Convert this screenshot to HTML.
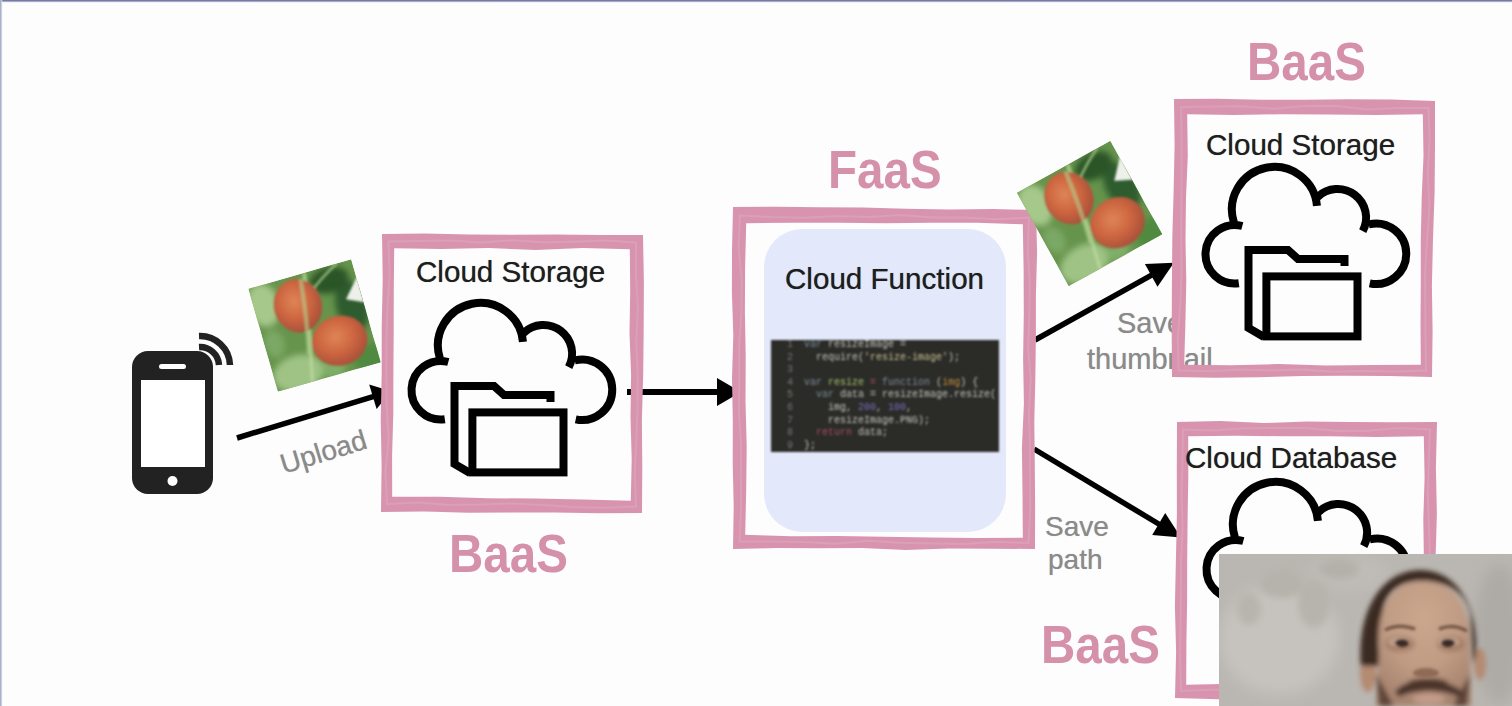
<!DOCTYPE html>
<html><head><meta charset="utf-8">
<style>
html,body{margin:0;padding:0;}
body{width:1512px;height:706px;overflow:hidden;position:relative;background:#fdfdfe;font-family:"Liberation Sans",sans-serif;}
.abs{position:absolute;}
.topline{position:absolute;left:0;top:0;width:1512px;height:3px;background:linear-gradient(#656a97 0,#8a8eb4 40%,rgba(220,224,240,0.5) 75%,rgba(253,253,254,0) 100%);}
.leftline{position:absolute;left:0;top:0;width:3px;height:706px;background:linear-gradient(90deg,#9aa3bb 0,#c0c7d8 45%,rgba(235,238,248,0.4) 75%,rgba(253,253,254,0) 100%);}
svg{position:absolute;left:0;top:0;}
.t{position:absolute;white-space:nowrap;color:#1e1e1e;font-size:29.6px;line-height:1;text-shadow:0 0 0.7px rgba(30,30,30,0.7);}
.lbl{position:absolute;white-space:nowrap;color:#8a8a8a;font-size:28px;line-height:1;text-shadow:0 0 0.7px rgba(138,138,138,0.7);}
.big{position:absolute;white-space:nowrap;color:#d590aa;font-size:54px;font-weight:bold;line-height:1;transform-origin:0 0;transform:scaleX(0.88);}
.fn{position:absolute;left:764px;top:229px;width:242px;height:303px;background:#e3e9fb;border-radius:38px;}
.code{position:absolute;left:771px;top:340px;width:228px;height:112px;background:#2b2b28;overflow:hidden;font-family:"Liberation Mono",monospace;font-size:10px;color:#c4c4bc;filter:blur(1px);}
.cl{height:12.6px;line-height:12.6px;white-space:pre;position:relative;left:33px;top:-1px;}
.ln{position:absolute;left:-17px;color:#777;}
.k{color:#7d8f9a} .s{color:#c8c090} .g{color:#a8c070} .r{color:#a85068} .o{color:#c09040} .n{color:#7a72c0}
.photo{position:absolute;width:107px;height:107px;overflow:hidden;}
.berry{position:absolute;border-radius:50%;}
.b1{left:21px;top:4px;width:42px;height:50px;background:radial-gradient(ellipse at 40% 40%,#e07050,#c4503a 60%,#a04030);}
.b2{left:46px;top:52px;width:52px;height:46px;background:radial-gradient(ellipse at 45% 40%,#e07850,#c85a3a 60%,#a84a30);}
.stem{position:absolute;left:55px;top:0;width:7px;height:107px;background:rgba(170,210,130,0.8);transform:rotate(-8deg);}
.cam{position:absolute;left:1219px;top:554px;width:293px;height:152px;overflow:hidden;
 background:radial-gradient(ellipse 90px 60px at 60px 40px,#c8c5c0,rgba(200,197,192,0)),linear-gradient(90deg,#b8b4ae,#aaa6a0 60%,#b0aca6);}
</style></head><body>
<div class="topline"></div><div class="leftline"></div>
<div class="fn"></div>
<div class="code"><div class="cl"><span class="ln">1</span><span class="k">var</span> resizeImage =</div><div class="cl"><span class="ln">2</span>  require(<span class="s">'resize-image'</span>);</div><div class="cl"><span class="ln">3</span></div><div class="cl"><span class="ln">4</span><span class="k">var</span> <span class="g">resize</span> <span class="r">=</span> <span class="k">function</span> (<span class="o">img</span>) {</div><div class="cl"><span class="ln">5</span>  <span class="k">var</span> data = resizeImage.resize(</div><div class="cl"><span class="ln">6</span>    img, <span class="n">200</span>, <span class="n">100</span>,</div><div class="cl"><span class="ln">7</span>    resizeImage.PNG);</div><div class="cl"><span class="ln">8</span>  <span class="r">return</span> data;</div><div class="cl"><span class="ln">9</span>};</div></div>
<svg width="1512" height="706" viewBox="0 0 1512 706">

<rect x="132" y="351" width="81" height="143" rx="16" fill="#222"/>
<rect x="141" y="380" width="64" height="87" fill="#fff"/>
<rect x="159" y="364" width="27" height="5" rx="2.5" fill="#fff"/>
<circle cx="172.5" cy="481" r="5" fill="#fff"/>
<path d="M199,336 A30,30 0 0 1 230,365" fill="none" stroke="#222" stroke-width="6.5"/>
<path d="M199,347 A19,19 0 0 1 219,365" fill="none" stroke="#222" stroke-width="6.5"/>

<line x1="237" y1="438" x2="374.8" y2="396.2" stroke="#000" stroke-width="5.5"/><path d="M391.1,391.3 L376.6,409.0 L369.2,384.6 Z" fill="#000"/>
<line x1="627" y1="392" x2="719.0" y2="392.0" stroke="#000" stroke-width="6"/><path d="M741.0,392.0 L717.0,406.0 L717.0,378.0 Z" fill="#000"/>
<line x1="1035" y1="340" x2="1152.9" y2="274.3" stroke="#000" stroke-width="5.5"/><path d="M1173.9,262.7 L1157.5,286.7 L1144.9,263.9 Z" fill="#000"/>
<line x1="1034" y1="449" x2="1160.4" y2="525.0" stroke="#000" stroke-width="5.5"/><path d="M1181.0,537.4 L1152.2,534.9 L1165.2,513.1 Z" fill="#000"/>
<path d="M448.32,362.00 A29.25,29.25 0 1 0 444.82,419.22" fill="none" stroke="#000" stroke-width="8"/>
<path d="M439.98,358.66 A42.6,42.6 0 1 1 522.94,341.79" fill="none" stroke="#000" stroke-width="8"/>
<path d="M523.46,333.05 A28.7,28.7 0 0 1 568.74,367.17" fill="none" stroke="#000" stroke-width="8"/>
<path d="M574.68,360.40 A30.25,30.25 0 1 1 575.71,419.34" fill="none" stroke="#000" stroke-width="8"/>
<path d="M550.5,402.0 L550.5,395.0 L504.0,395.0 L494.0,386.0 L454.5,386.0 L454.5,464.0 L470.0,473.0" fill="none" stroke="#000" stroke-width="8" stroke-linejoin="miter"/>
<rect x="472.4000000000001" y="412.4" width="91.1" height="60" fill="none" stroke="#000" stroke-width="8"/>
<path d="M1242.32,226.00 A29.25,29.25 0 1 0 1238.82,283.22" fill="none" stroke="#000" stroke-width="8"/>
<path d="M1233.98,222.66 A42.6,42.6 0 1 1 1316.94,205.79" fill="none" stroke="#000" stroke-width="8"/>
<path d="M1317.46,197.05 A28.7,28.7 0 0 1 1362.74,231.17" fill="none" stroke="#000" stroke-width="8"/>
<path d="M1368.68,224.40 A30.25,30.25 0 1 1 1369.71,283.34" fill="none" stroke="#000" stroke-width="8"/>
<path d="M1344.5,266.0 L1344.5,259.0 L1298.0,259.0 L1288.0,250.0 L1248.5,250.0 L1248.5,328.0 L1264.0,337.0" fill="none" stroke="#000" stroke-width="8" stroke-linejoin="miter"/>
<rect x="1266.4" y="276.4" width="91.1" height="60" fill="none" stroke="#000" stroke-width="8"/>
<path d="M1243.32,541.00 A29.25,29.25 0 1 0 1239.82,598.22" fill="none" stroke="#000" stroke-width="8"/>
<path d="M1234.98,537.66 A42.6,42.6 0 1 1 1317.94,520.79" fill="none" stroke="#000" stroke-width="8"/>
<path d="M1318.46,512.05 A28.7,28.7 0 0 1 1363.74,546.17" fill="none" stroke="#000" stroke-width="8"/>
<path d="M1369.68,539.40 A30.25,30.25 0 1 1 1370.71,598.34" fill="none" stroke="#000" stroke-width="8"/>
<path d="M1345.5,581.0 L1345.5,574.0 L1299.0,574.0 L1289.0,565.0 L1249.5,565.0 L1249.5,643.0 L1265.0,652.0" fill="none" stroke="#000" stroke-width="8" stroke-linejoin="miter"/>
<rect x="1267.4" y="591.4" width="91.1" height="60" fill="none" stroke="#000" stroke-width="8"/>
</svg>
<div class="lbl" style="left:0;top:0;transform:translate(277px,452px) rotate(-17deg);transform-origin:0 0;">Upload</div>
<div class="lbl" style="left:1117px;top:309px;font-size:29px">Save</div>
<div class="lbl" style="left:1087px;top:345px;font-size:29px">thumbnail</div>
<div class="lbl" style="left:1045px;top:513px;">Save</div>
<div class="lbl" style="left:1048px;top:546px;">path</div>
<svg width="1512" height="706" viewBox="0 0 1512 706" style="filter:blur(0.7px)">
<path d="M382.0,234.0 L425.5,233.4 L469.0,234.5 L512.5,234.8 L556.0,234.4 L599.5,234.9 L643.0,235.0 L643.9,281.3 L643.7,327.7 L643.2,374.0 L641.9,420.3 L642.3,466.7 L642.0,513.0 L598.5,513.3 L555.0,512.5 L511.5,512.6 L468.0,512.8 L424.5,511.5 L381.0,512.0 L381.6,465.7 L380.7,419.3 L381.7,373.0 L381.7,326.7 L382.7,280.3 Z M394.2,248.2 L441.3,249.0 L488.4,248.1 L535.6,250.0 L582.7,248.1 L629.8,249.2 L630.2,291.1 L629.5,333.1 L631.1,375.0 L630.5,416.9 L631.7,458.9 L630.8,500.8 L583.1,499.6 L535.4,498.6 L487.6,498.2 L439.9,496.7 L392.2,496.8 L392.1,455.4 L393.3,413.9 L393.4,372.5 L393.7,331.1 L393.8,289.6 Z" fill="#d894ae" fill-rule="evenodd"/><path d="M388.5,241.5 L419.4,240.9 L450.4,240.4 L481.3,242.5 L512.3,240.3 L543.2,242.3 L574.1,241.7 L605.1,240.6 L636.0,242.5 L636.0,275.5 L637.9,308.5 L636.3,341.5 L637.7,374.5 L637.6,407.5 L636.3,440.5 L634.7,473.5 L636.0,506.5 L604.9,507.7 L573.7,507.0 L542.6,505.1 L511.5,503.5 L480.4,504.6 L449.2,505.0 L418.1,502.4 L387.0,504.0 L385.4,471.2 L388.8,438.4 L386.7,405.6 L386.3,372.7 L386.4,339.9 L387.4,307.1 L389.6,274.3 Z" fill="none" stroke="#e2aec2" stroke-width="2" opacity="0.4"/>
<path d="M733.0,207.0 L776.3,206.7 L819.6,207.2 L862.9,207.6 L906.1,208.7 L949.4,209.4 L992.7,209.0 L1036.0,210.0 L1037.1,252.4 L1035.9,294.8 L1035.9,337.1 L1035.3,379.5 L1034.3,421.9 L1034.8,464.2 L1035.1,506.6 L1035.0,549.0 L991.9,548.7 L948.7,548.6 L905.6,550.1 L862.4,548.0 L819.3,548.3 L776.1,548.1 L733.0,549.0 L733.7,506.2 L732.7,463.5 L732.8,420.8 L732.0,378.0 L733.3,335.2 L731.9,292.5 L732.0,249.8 Z M746.2,223.2 L792.3,222.7 L838.4,222.7 L884.5,223.3 L930.6,222.8 L976.7,222.8 L1022.8,224.2 L1023.6,269.0 L1023.8,313.8 L1023.1,358.6 L1023.9,403.4 L1021.9,448.2 L1022.5,493.0 L1022.8,537.8 L976.5,538.1 L930.3,537.4 L884.0,536.7 L837.7,536.1 L791.5,536.2 L745.2,534.8 L746.2,490.3 L746.7,445.8 L745.5,401.3 L745.7,356.7 L744.9,312.2 L745.1,267.7 Z" fill="#d894ae" fill-rule="evenodd"/><path d="M740.0,215.5 L772.1,217.1 L804.2,217.7 L836.3,216.1 L868.4,217.0 L900.6,214.9 L932.7,217.6 L964.8,217.6 L996.9,219.3 L1029.0,217.5 L1027.7,250.0 L1029.8,282.6 L1029.3,315.2 L1028.1,347.7 L1030.7,380.3 L1028.9,412.8 L1030.0,445.4 L1030.1,477.9 L1030.3,510.5 L1028.5,543.0 L996.4,541.8 L964.3,544.1 L932.2,543.5 L900.1,542.8 L868.0,540.7 L835.8,543.7 L803.7,542.0 L771.6,541.5 L739.5,541.5 L741.1,508.9 L740.9,476.3 L741.1,443.7 L738.8,411.1 L739.4,378.5 L739.2,345.9 L741.4,313.3 L741.7,280.7 L738.6,248.1 Z" fill="none" stroke="#e2aec2" stroke-width="2" opacity="0.4"/>
<path d="M1174.0,99.0 L1217.5,98.7 L1261.0,99.7 L1304.5,99.7 L1348.0,99.2 L1391.5,99.5 L1435.0,101.0 L1435.0,147.0 L1434.6,193.0 L1433.0,239.0 L1431.9,285.0 L1432.6,331.0 L1432.0,377.0 L1388.7,376.0 L1345.3,375.8 L1302.0,375.9 L1258.7,377.3 L1215.3,377.7 L1172.0,377.0 L1171.7,330.7 L1171.9,284.3 L1172.3,238.0 L1173.6,191.7 L1174.6,145.3 Z M1187.2,114.2 L1234.3,115.0 L1281.4,114.2 L1328.6,114.6 L1375.7,114.9 L1422.8,114.2 L1423.5,156.0 L1421.7,197.7 L1420.8,239.5 L1420.8,281.3 L1420.5,323.0 L1420.8,364.8 L1373.5,364.9 L1326.2,365.6 L1278.8,364.1 L1231.5,365.2 L1184.2,364.8 L1185.4,323.0 L1186.3,281.3 L1185.5,239.5 L1186.0,197.7 L1187.8,156.0 Z" fill="#d894ae" fill-rule="evenodd"/><path d="M1181.0,107.0 L1211.9,106.5 L1242.9,106.3 L1273.8,108.7 L1304.8,106.1 L1335.7,105.7 L1366.6,109.6 L1397.6,108.0 L1428.5,108.0 L1429.6,140.8 L1427.7,173.6 L1429.5,206.5 L1427.1,239.2 L1425.0,272.0 L1425.2,304.9 L1425.5,337.7 L1426.0,370.5 L1395.1,371.5 L1364.1,371.0 L1333.2,371.8 L1302.2,369.4 L1271.3,370.4 L1240.4,369.4 L1209.4,371.2 L1178.5,370.5 L1177.7,337.6 L1180.4,304.6 L1181.4,271.7 L1181.2,238.8 L1181.3,205.8 L1181.6,172.9 L1181.6,139.9 Z" fill="none" stroke="#e2aec2" stroke-width="2" opacity="0.4"/>
<path d="M1177.0,422.0 L1220.3,421.1 L1263.7,423.0 L1307.0,421.6 L1350.3,421.9 L1393.7,422.2 L1437.0,422.0 L1435.9,468.0 L1436.9,514.0 L1435.5,560.0 L1436.3,606.0 L1436.1,652.0 L1436.0,698.0 L1392.5,697.9 L1349.0,699.2 L1305.5,698.1 L1262.0,698.8 L1218.5,699.2 L1175.0,698.0 L1176.1,652.0 L1174.9,606.0 L1175.9,560.0 L1176.9,514.0 L1176.8,468.0 Z M1188.2,436.2 L1235.3,435.8 L1282.4,436.2 L1329.6,436.3 L1376.7,436.9 L1423.8,436.2 L1424.6,477.6 L1423.3,519.1 L1423.9,560.5 L1423.7,601.9 L1422.3,643.4 L1422.8,684.8 L1375.5,684.8 L1328.2,684.7 L1280.8,684.2 L1233.5,683.8 L1186.2,684.8 L1186.4,643.4 L1187.1,601.9 L1187.2,560.5 L1187.6,519.1 L1188.3,477.6 Z" fill="#d894ae" fill-rule="evenodd"/><path d="M1183.0,429.5 L1213.9,430.4 L1244.8,428.2 L1275.6,428.0 L1306.5,428.1 L1337.4,431.1 L1368.2,430.7 L1399.1,428.1 L1430.0,429.5 L1428.6,462.2 L1427.8,494.9 L1429.0,527.6 L1430.1,560.3 L1429.2,592.9 L1430.7,625.6 L1431.1,658.3 L1429.0,691.0 L1398.0,689.1 L1367.0,690.4 L1336.0,690.9 L1305.0,689.3 L1274.0,691.3 L1243.0,689.5 L1212.0,689.7 L1181.0,691.0 L1180.1,658.3 L1180.5,625.6 L1180.9,592.9 L1181.0,560.2 L1182.6,527.6 L1181.5,494.9 L1182.4,462.2 Z" fill="none" stroke="#e2aec2" stroke-width="2" opacity="0.4"/>
</svg>
<div class="t" style="left:416px;top:257px">Cloud Storage</div>
<div class="t" style="left:1206px;top:130px">Cloud Storage</div>
<div class="t" style="left:1185px;top:443px">Cloud Database</div>
<div class="t" style="left:785px;top:264px">Cloud Function</div>
<div class="big" style="left:449px;top:526px">BaaS</div>
<div class="big" style="left:828px;top:142px">FaaS</div>
<div class="big" style="left:1247px;top:34px">BaaS</div>
<div class="big" style="left:1041px;top:617px">BaaS</div>
<div class="photo" style="left:261.1px;top:271.9px;transform:rotate(-16deg)">
<svg width="107" height="107" viewBox="0 0 107 107" style="position:absolute;left:0;top:0">
<defs>
<filter id="pb314" x="-30%" y="-30%" width="160%" height="160%"><feGaussianBlur stdDeviation="3"/></filter>
<filter id="pc314" x="-30%" y="-30%" width="160%" height="160%"><feGaussianBlur stdDeviation="1"/></filter>
<radialGradient id="rb314" cx="45%" cy="40%" r="60%"><stop offset="0" stop-color="#df8457"/><stop offset="0.55" stop-color="#cd6640"/><stop offset="1" stop-color="#a9503a"/></radialGradient>
</defs>
<rect width="107" height="107" fill="#66944c"/>
<g filter="url(#pb314)">
<ellipse cx="10" cy="20" rx="16" ry="22" fill="#a6c88a"/>
<ellipse cx="25" cy="95" rx="26" ry="18" fill="#9fc385"/>
<ellipse cx="95" cy="45" rx="16" ry="26" fill="#2f5c2d"/>
<ellipse cx="80" cy="14" rx="20" ry="13" fill="#2c5428"/>
<ellipse cx="100" cy="100" rx="18" ry="14" fill="#4f8a40"/>
<ellipse cx="60" cy="100" rx="12" ry="10" fill="#7eae68"/>
<ellipse cx="10" cy="60" rx="10" ry="14" fill="#7ca865"/>
</g>
<g filter="url(#pc314)">
<path d="M58,0 C54,30 44,70 36,107" stroke="#b9d89a" stroke-width="4" fill="none" opacity="0.7"/>
<path d="M60,20 C70,12 80,6 92,0" stroke="#a9cc8c" stroke-width="3" fill="none" opacity="0.7"/>
<ellipse cx="43" cy="30" rx="24" ry="27" fill="url(#rb314)"/>
<ellipse cx="73.5" cy="75" rx="28" ry="25" fill="url(#rb314)"/>
<path d="M53,5 C50,30 46,55 40,80" stroke="#b0d28e" stroke-width="4" fill="none" opacity="0.6"/>
<path d="M108,18 L91,37 L108,45 Z" fill="#eef1ea"/>
</g>
</svg>
</div>
<div class="photo" style="left:1036.4px;top:159.9px;transform:rotate(-29deg)">
<svg width="107" height="107" viewBox="0 0 107 107" style="position:absolute;left:0;top:0">
<defs>
<filter id="pb1089" x="-30%" y="-30%" width="160%" height="160%"><feGaussianBlur stdDeviation="3"/></filter>
<filter id="pc1089" x="-30%" y="-30%" width="160%" height="160%"><feGaussianBlur stdDeviation="1"/></filter>
<radialGradient id="rb1089" cx="45%" cy="40%" r="60%"><stop offset="0" stop-color="#df8457"/><stop offset="0.55" stop-color="#cd6640"/><stop offset="1" stop-color="#a9503a"/></radialGradient>
</defs>
<rect width="107" height="107" fill="#66944c"/>
<g filter="url(#pb1089)">
<ellipse cx="10" cy="20" rx="16" ry="22" fill="#a6c88a"/>
<ellipse cx="25" cy="95" rx="26" ry="18" fill="#9fc385"/>
<ellipse cx="95" cy="45" rx="16" ry="26" fill="#2f5c2d"/>
<ellipse cx="80" cy="14" rx="20" ry="13" fill="#2c5428"/>
<ellipse cx="100" cy="100" rx="18" ry="14" fill="#4f8a40"/>
<ellipse cx="60" cy="100" rx="12" ry="10" fill="#7eae68"/>
<ellipse cx="10" cy="60" rx="10" ry="14" fill="#7ca865"/>
</g>
<g filter="url(#pc1089)">
<path d="M58,0 C54,30 44,70 36,107" stroke="#b9d89a" stroke-width="4" fill="none" opacity="0.7"/>
<path d="M60,20 C70,12 80,6 92,0" stroke="#a9cc8c" stroke-width="3" fill="none" opacity="0.7"/>
<ellipse cx="43" cy="30" rx="24" ry="27" fill="url(#rb1089)"/>
<ellipse cx="73.5" cy="75" rx="28" ry="25" fill="url(#rb1089)"/>
<path d="M53,5 C50,30 46,55 40,80" stroke="#b0d28e" stroke-width="4" fill="none" opacity="0.6"/>
<path d="M108,18 L91,37 L108,45 Z" fill="#eef1ea"/>
</g>
</svg>
</div>
<div class="cam"><svg width="293" height="152" viewBox="0 0 293 152" style="position:absolute;left:0;top:0">
<defs>
<filter id="bl" x="-20%" y="-20%" width="140%" height="140%"><feGaussianBlur stdDeviation="2.5"/></filter>
<filter id="bl2" x="-50%" y="-50%" width="200%" height="200%"><feGaussianBlur stdDeviation="7"/></filter>
<filter id="bl3" x="-50%" y="-50%" width="200%" height="200%"><feGaussianBlur stdDeviation="3.5"/></filter>
<filter id="bl1" x="-50%" y="-50%" width="200%" height="200%"><feGaussianBlur stdDeviation="1.6"/></filter>
<radialGradient id="skin" cx="50%" cy="30%" r="70%"><stop offset="0" stop-color="#cba78e"/><stop offset="0.55" stop-color="#c09c84"/><stop offset="1" stop-color="#a6836e"/></radialGradient>
</defs>
<rect width="293" height="152" fill="#bab6b1"/>
<g filter="url(#bl2)">
<ellipse cx="60" cy="85" rx="60" ry="55" fill="#c6c3be"/>
<ellipse cx="280" cy="80" rx="25" ry="70" fill="#aeaba6"/>
<ellipse cx="130" cy="20" rx="40" ry="18" fill="#bfbcb7"/>
</g>
<g filter="url(#bl3)">
<ellipse cx="62" cy="30" rx="22" ry="14" fill="#b6b2ac"/>
<ellipse cx="95" cy="50" rx="16" ry="24" fill="#b7b3ad"/>
<ellipse cx="30" cy="55" rx="12" ry="16" fill="#b8b4ae"/>
<ellipse cx="120" cy="15" rx="20" ry="10" fill="#b4b0aa"/>
</g>
<g filter="url(#bl)">
<ellipse cx="149" cy="119" rx="8" ry="19" fill="#b48a72"/>
<ellipse cx="261" cy="110" rx="6" ry="16" fill="#b48a72"/>
<path d="M142,112 C138,60 160,17 201,16 C240,16 259,55 257,100 L254,110 L251,60 C245,38 230,28 203,27 C180,27 168,38 164,55 L160,112 Z" fill="#3a2a22"/>
<path d="M160,100 C156,55 172,27 203,27 C236,27 252,52 251,95 L252,152 L157,152 Z" fill="url(#skin)"/>
<path d="M157,120 L160,152 L175,152 C168,140 162,128 157,120 Z" fill="#5e4438"/>
<path d="M251,120 L248,152 L234,152 C240,140 247,128 251,120 Z" fill="#5e4438"/>
<ellipse cx="181" cy="90" rx="15" ry="8" fill="#a67e68"/>
<ellipse cx="232" cy="90" rx="14" ry="8" fill="#a67e68"/>
<path d="M176,138 C186,122 226,122 244,138 L240,143 C224,135 196,135 180,143 Z" fill="#4a322a"/><ellipse cx="209" cy="129" rx="20" ry="5" fill="#4e362c"/>
<ellipse cx="210" cy="145" rx="16" ry="5" fill="#c39c8a"/>
</g>
<g filter="url(#bl1)">
<path d="M166,76 Q180,69 196,75" stroke="#6a4c3e" stroke-width="3" fill="none"/>
<path d="M220,75 Q234,69 248,77" stroke="#6a4c3e" stroke-width="3" fill="none"/>
<ellipse cx="180" cy="88" rx="11" ry="5" fill="#cdb8a8" opacity="0.5"/><ellipse cx="183" cy="89" rx="7" ry="4" fill="#3a2a22"/>
<ellipse cx="230" cy="88" rx="11" ry="5" fill="#cdb8a8" opacity="0.5"/><ellipse cx="229" cy="89" rx="7" ry="4" fill="#3a2a22"/>
<ellipse cx="207" cy="119" rx="13" ry="5" fill="#8f6a56"/>
</g>
</svg></div>
</body></html>
